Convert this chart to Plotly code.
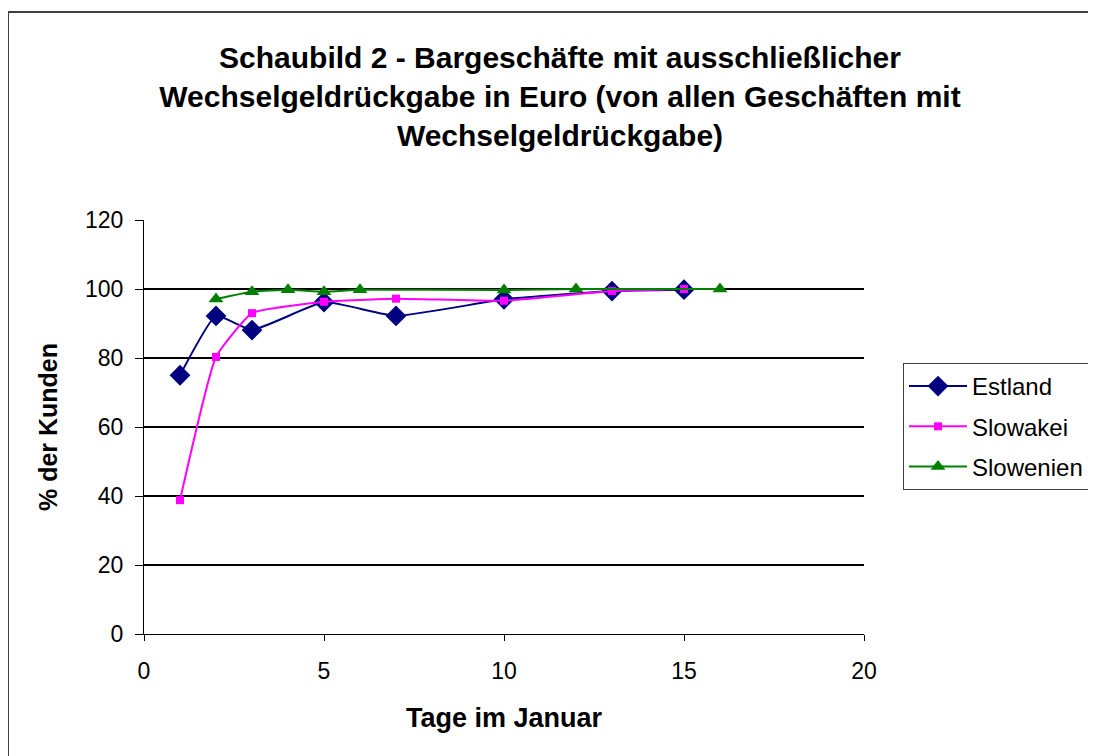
import plotly.graph_objects as go

# Data
est_x = [1, 2, 3, 5, 7, 10, 13, 15]
est_y = [75.0, 92.2, 88.1, 96.2, 92.2, 97.0, 99.4, 99.8]

slk_x = [1, 2, 3, 5, 7, 10, 13, 15]
slk_y = [38.8, 80.3, 93.0, 96.3, 97.2, 96.6, 99.4, 100.0]

slo_x = [2, 3, 4, 5, 6, 10, 12, 16]
slo_y = [97.1, 99.2, 99.8, 99.2, 99.8, 99.7, 100.0, 100.0]

title_lines = ["Schaubild 2 - Bargeschäfte mit ausschließlicher",
               "Wechselgeldrückgabe in Euro (von allen Geschäften mit",
               "Wechselgeldrückgabe)"]
x_title = "Tage im Januar"
y_title = "% der Kunden"

FONT = "Liberation Sans, Arial, sans-serif"
SMOOTH = 0.4

fig = go.Figure()
fig.add_trace(go.Scatter(
    x=est_x, y=est_y, name="Estland", mode="lines+markers",
    line=dict(color="#000080", width=2, shape="spline", smoothing=SMOOTH),
    marker=dict(symbol="diamond", size=16, color="#000080"),
    legendgroup="a"))
fig.add_trace(go.Scatter(
    x=slk_x, y=slk_y, name="Slowakei", mode="lines+markers",
    line=dict(color="#FF00FF", width=2, shape="spline", smoothing=SMOOTH),
    marker=dict(symbol="square", size=8, color="#FF00FF"),
    legendgroup="b"))
fig.add_trace(go.Scatter(
    x=slo_x, y=slo_y, name="Slowenien", mode="lines+markers",
    line=dict(color="#008000", width=2, shape="spline", smoothing=SMOOTH),
    marker=dict(symbol="triangle-up", size=13, color="#008000"),
    legendgroup="c"))

W, H = 1096, 756
L, R, T, B = 136, 240, 212, 130
pw, ph = W - L - R, H - T - B

def px2paper_x(px):
    return (px - L) / pw

def px2paper_y(py):
    return (H - B - py) / ph

fig.add_shape(type="rect", xref="paper", yref="paper",
              x0=px2paper_x(0), x1=px2paper_x(1110),
              y0=px2paper_y(770), y1=px2paper_y(4),
              line=dict(color="#404040", width=2), layer="below")

fig.update_layout(
    width=W, height=H, autosize=False,
    margin=dict(l=L, r=R, t=T, b=B),
    paper_bgcolor="white", plot_bgcolor="white",
    font=dict(family=FONT, color="black", size=23),
    title=dict(text="<b>" + "<br>".join(title_lines) + "</b>",
               x=552 / W, xanchor="center", xref="container",
               y=1 - 60 / H, yanchor="top", yref="container",
               font=dict(size=30, family=FONT, color="black")),
    legend=dict(x=895 / W, y=1 - 355 / H, xanchor="left", yanchor="top",
                xref="container", yref="container",
                bordercolor="#404040", borderwidth=1,
                font=dict(size=24, family=FONT, color="black"),
                tracegroupgap=6, itemwidth=58, bgcolor="white"),
    showlegend=True,
)
fig.update_xaxes(range=[0, 20], tickvals=[0, 5, 10, 15, 20],
                 showgrid=False, zeroline=False,
                 showline=True, linecolor="black", linewidth=1,
                 ticks="outside", ticklen=6, tickcolor="black",
                 ticklabelstandoff=10,
                 title=dict(text="<b>" + x_title + "</b>", standoff=25,
                            font=dict(size=27, family=FONT)))
fig.update_yaxes(range=[0, 120], tickvals=[0, 20, 40, 60, 80, 100, 120],
                 showgrid=True, gridcolor="black", gridwidth=2,
                 zeroline=False,
                 showline=True, linecolor="black", linewidth=1,
                 ticks="outside", ticklen=8, tickcolor="black",
                 ticklabelstandoff=7,
                 title=dict(text="<b>" + y_title + "</b>", standoff=20,
                            font=dict(size=25, family=FONT)))

fig.write_html("out.html")
